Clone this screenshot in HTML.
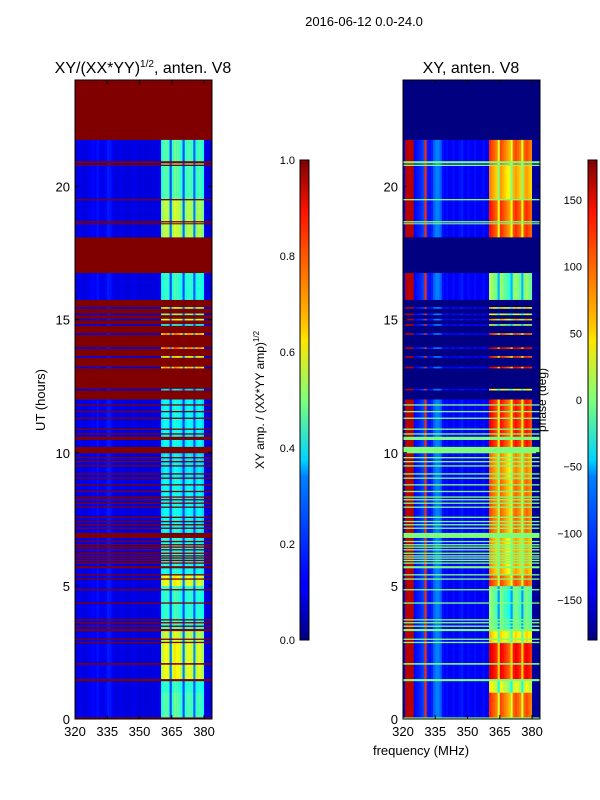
<!DOCTYPE html>
<html><head><meta charset="utf-8"><style>
body{margin:0;background:#fff;}
svg{display:block;font-family:"Liberation Sans",sans-serif;}
</style></head><body>
<svg id="fig" width="600" height="800" viewBox="0 0 600 800">
<defs>
<linearGradient id="jet" x1="0" y1="1" x2="0" y2="0">
<stop offset="0" stop-color="#00007f"/><stop offset="0.11" stop-color="#0000ff"/><stop offset="0.125" stop-color="#0000ff"/>
<stop offset="0.34" stop-color="#0080ff"/><stop offset="0.375" stop-color="#00d4ff"/><stop offset="0.5" stop-color="#7dff7a"/>
<stop offset="0.625" stop-color="#ffe600"/><stop offset="0.66" stop-color="#ffc000"/><stop offset="0.89" stop-color="#ff1400"/><stop offset="1" stop-color="#7f0000"/>
</linearGradient>
</defs>
<text x="364" y="26" font-size="13" text-anchor="middle">2016-06-12 0.0-24.0</text>
<text x="143" y="73" font-size="16" text-anchor="middle">XY/(XX*YY)<tspan font-size="10" dy="-6">1/2</tspan><tspan dy="6">, anten. V8</tspan></text>
<text x="471" y="73" font-size="16" text-anchor="middle">XY, anten. V8</text>
<g id="ampPanel"></g>
<g id="phPanel"></g>
<g id="axes"></g>
<text transform="translate(45,400) rotate(-90)" font-size="13" text-anchor="middle">UT (hours)</text>
<text x="421" y="755" font-size="13" text-anchor="middle">frequency (MHz)</text>
<rect x="300" y="160" width="9" height="480" fill="url(#jet)" stroke="#000" stroke-width="1"/>
<rect x="588" y="160" width="9" height="480" fill="url(#jet)" stroke="#000" stroke-width="1"/>
<text transform="translate(264,400) rotate(-90)" font-size="12" text-anchor="middle">XY amp. / (XX*YY amp)<tspan font-size="8" dy="-5">1/2</tspan></text>
<text transform="translate(546,400) rotate(-90)" font-size="12" text-anchor="middle">phase (deg)</text>
</svg>
<script>
// ---- data ----
const freqEdges=[320,321,322,323,324,325,326,327,328,329,330,331,332,333,334,335,336,337,338,339,340,341,342,343,344,345,346,347,348,349,350,351,352,353,354,355,356,357,358,359,360,361,362,363,364,365,366,367,368,369,370,371,372,373,374,375,376,377,378,379,380,381,382,383,384];
const ampCol=[0.08,0.10,0.11,0.10,0.09,0.10,0.11,0.12,0.13,0.11,0.14,0.12,0.10,0.11,0.13,0.15,0.14,0.12,0.10,0.09,0.10,0.11,0.10,0.09,0.10,0.09,0.10,0.11,0.10,0.09,0.09,0.10,0.09,0.10,0.09,0.09,0.10,0.09,0.10,0.11,
 0.9,1.0,1.05,0.95,0.25,0.95,1.1,1.05,1.0,0.9,0.25,0.9,1.0,1.0,0.95,0.3,0.9,1.0,0.95,0.85,
 0.10,0.09,0.09,0.08];
const phaseCol=[-150,160,160,160,160,-135,-130,-125,-120,-110,120,-125,-130,-125,-100,-90,-90,-100,-130,-135,-130,-140,-135,-130,-140,-135,-130,-125,-135,-140,-130,-135,-140,-130,-135,-140,-135,-130,-140,-135,
 30,20,10,0,-60,20,10,0,-10,-20,-60,10,20,10,0,-60,10,20,10,0,
 -170,-170,-170,-170];
const blockStart=[0.06,1.0,1.5,2.9,3.4,5.0,5.4,7.0,9.0,10.2,12.35,13.18,13.58,13.91,14.44,14.78,14.98,15.18,15.42,15.75,18.1,19.5,20.8];
const blockEnd=[1.0,1.5,2.9,3.4,5.0,5.4,7.0,9.0,10.2,12.0,12.4,13.23,13.63,13.96,14.49,14.83,15.03,15.23,15.47,16.75,19.5,20.8,21.75];
const blockAmp=[0.45,0.42,0.6,0.56,0.42,0.6,0.4,0.38,0.36,0.38,0.35,0.7,0.6,0.75,0.7,0.4,0.6,0.5,0.55,0.42,0.55,0.45,0.45];
const blockPhase=[90,20,120,40,-20,90,60,80,70,110,30,120,100,130,90,0,60,20,40,-10,100,60,90];
const flagStart=[0,1.42,2.04,2.85,2.97,3.30,3.46,3.59,3.70,4.33,4.83,5.23,5.39,5.66,5.83,5.93,6.02,6.10,6.20,6.33,6.43,6.52,6.64,6.80,7.14,7.27,7.39,7.55,7.93,8.08,8.21,8.31,8.52,8.77,9.02,9.18,9.48,9.64,9.79,9.98,10.48,10.68,10.86,11.27,11.52,11.77,18.58,18.65,19.48,20.77,20.87];
const flagEnd=[0.06,1.50,2.10,2.90,3.02,3.38,3.51,3.64,3.75,4.38,4.88,5.28,5.44,5.74,5.88,5.98,6.07,6.15,6.25,6.38,6.48,6.57,6.69,6.99,7.19,7.32,7.44,7.60,7.98,8.13,8.26,8.36,8.57,8.82,9.07,9.23,9.53,9.69,9.84,10.22,10.60,10.73,10.91,11.32,11.57,11.82,18.62,18.70,19.53,20.82,20.95];
const yTicks=[0,5,10,15,20];
const xTicks=[320,335,350,365,380];
const ampTicks=[0.0,0.2,0.4,0.6,0.8,1.0];
const ampTickLabels=["0.0","0.2","0.4","0.6","0.8","1.0"];
const phTicks=[-150,-100,-50,0,50,100,150];
const phTickLabels=["\u2212150","\u2212100","\u221250","0","50","100","150"];
// ---- scales ----
const NS="http://www.w3.org/2000/svg";
const yTop=80,yBot=719;
const yS=h=>yBot-(h/24)*(yBot-yTop);
const xS=(f,x0)=>x0+(f-320)*(137/63.7);
function jet(v){v=Math.max(0,Math.min(1,v));
 const r=Math.max(0,Math.min(1,1.5-Math.abs(4*v-3))),g=Math.max(0,Math.min(1,1.5-Math.abs(4*v-2))),b=Math.max(0,Math.min(1,1.5-Math.abs(4*v-1)));
 return `rgb(${Math.round(r*255)},${Math.round(g*255)},${Math.round(b*255)})`;}
const ampN=v=>v, phN=p=>(p+180)/360;
const isHi=c=>c>=40&&c<60;
function rect(g,x,y,w,h,fill,name){const r=document.createElementNS(NS,'rect');
 r.setAttribute('x',x);r.setAttribute('y',y);r.setAttribute('width',w);r.setAttribute('height',h);r.setAttribute('fill',fill);
 
 
 g.appendChild(r);return r;}
function txt(g,x,y,s,anchor,name,size){const t=document.createElementNS(NS,'text');
 t.setAttribute('x',x);t.setAttribute('y',y);t.setAttribute('text-anchor',anchor);t.setAttribute('font-size',size||13);t.textContent=s;
 
 
 g.appendChild(t);}
function line(g,x1,y1,x2,y2,name){const l=document.createElementNS(NS,'line');
 l.setAttribute('x1',x1);l.setAttribute('y1',y1);l.setAttribute('x2',x2);l.setAttribute('y2',y2);l.setAttribute('stroke','#000');
 
 
 g.appendChild(l);}
function panel(gid,x0,bg,cellVal,flagColor){
 const g=document.getElementById(gid);
 rect(g,x0,yTop,137,yBot-yTop,bg,'flagged-background');
 for(let b=0;b<blockStart.length;b++){
  const y1=yS(blockEnd[b]),y2=yS(blockStart[b]);
  for(let c=0;c<freqEdges.length-1;c++){
   const x1=xS(freqEdges[c],x0),x2=Math.min(xS(freqEdges[c+1],x0),x0+137);
   rect(g,x1,y1,x2-x1+0.3,y2-y1+0.3,cellVal(b,c),'heatmap-cell');
  }
 }
 for(let i=0;i<flagStart.length;i++){
  const y1=yS(flagEnd[i]),y2=yS(flagStart[i]);
  rect(g,x0,y1,137,Math.max(1,y2-y1),flagColor(i),'flagged-row');
 }
}
panel('ampPanel',75,jet(1),(b,c)=>{const base=0.12;const v=isHi(c)?base+(blockAmp[b]-base)*ampCol[c]:ampCol[c];return jet(ampN(v));},i=>jet(1));
panel('phPanel',403,jet(0),(b,c)=>{let p=isHi(c)?blockPhase[b]+phaseCol[c]:phaseCol[c];p=Math.max(-180,Math.min(180,p));return jet(phN(p));},i=>'#7dff7a');
// axes
const ax=document.getElementById('axes');
[75,403].forEach((x0,k)=>{
 const fr=document.createElementNS(NS,'rect');
 fr.setAttribute('x',x0);fr.setAttribute('y',yTop);fr.setAttribute('width',137);fr.setAttribute('height',yBot-yTop);fr.setAttribute('fill','none');fr.setAttribute('stroke','#000');
 
 
 ax.appendChild(fr);
 yTicks.forEach(t=>{const y=yS(t);line(ax,x0,y,x0+4,y,'y-tick');line(ax,x0+133,y,x0+137,y,'y-tick');txt(ax,x0-5,y+5,String(t),'end','y-tick-label');});
 xTicks.forEach(t=>{const x=xS(t,x0);line(ax,x,yBot,x,yBot-4,'x-tick');line(ax,x,yTop,x,yTop+4,'x-tick');txt(ax,x,yBot+17,String(t),'middle','x-tick-label');});
});
ampTicks.forEach((t,i)=>{const y=640-t*480;line(ax,300,y,309,y,'amp-colorbar-tick');txt(ax,295,y+4,ampTickLabels[i],'end','amp-colorbar-tick-label',11);});
phTicks.forEach((t,i)=>{const y=640-phN(t)*480;line(ax,588,y,597,y,'phase-colorbar-tick');txt(ax,582,y+4,phTickLabels[i],'end','phase-colorbar-tick-label',11);});
</script>
</body></html>
